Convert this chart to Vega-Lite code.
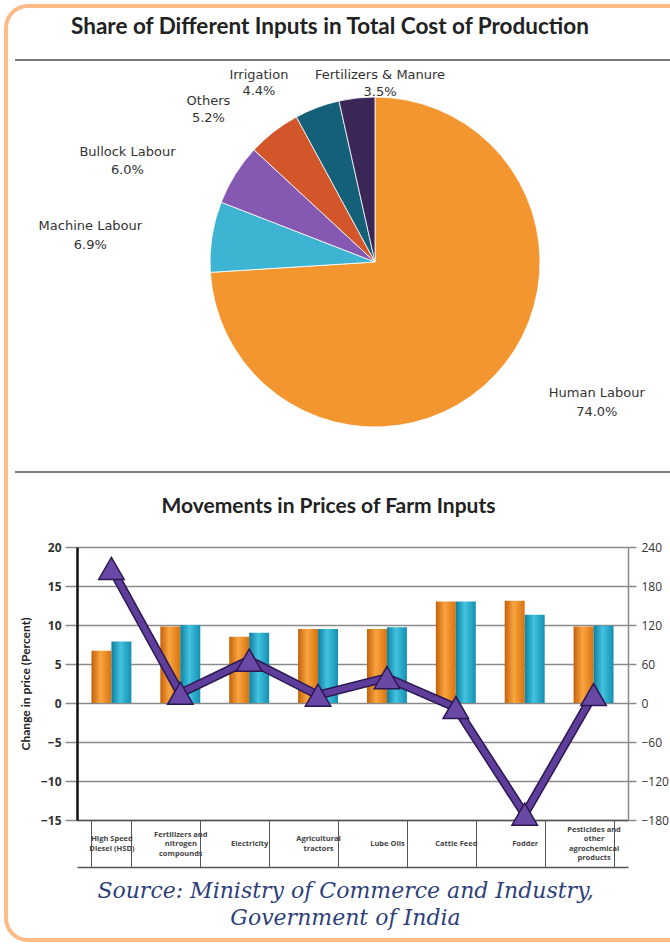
{
  "$schema": "https://vega.github.io/schema/vega-lite/v6.json",
  "background": "white",
  "padding": 4,
  "bounds": "flush",
  "spacing": 75,
  "config": {"view": {"stroke": null}, "font": "Lato"},
  "datasets": {
    "shares": [
      {"input": "Human Labour", "share": 74.0, "order": 1},
      {"input": "Machine Labour", "share": 6.9, "order": 2},
      {"input": "Bullock Labour", "share": 6.0, "order": 3},
      {"input": "Others", "share": 5.2, "order": 4},
      {"input": "Irrigation", "share": 4.4, "order": 5},
      {"input": "Fertilizers & Manure", "share": 3.5, "order": 6}
    ],
    "prices": [
      {"category": "High Speed Diesel (HSD)", "period": "Period 1", "change": 6.7},
      {"category": "High Speed Diesel (HSD)", "period": "Period 2", "change": 7.9},
      {"category": "Fertilizers and nitrogen compounds", "period": "Period 1", "change": 9.8},
      {"category": "Fertilizers and nitrogen compounds", "period": "Period 2", "change": 10.0},
      {"category": "Electricity", "period": "Period 1", "change": 8.5},
      {"category": "Electricity", "period": "Period 2", "change": 9.0},
      {"category": "Agricultural tractors", "period": "Period 1", "change": 9.5},
      {"category": "Agricultural tractors", "period": "Period 2", "change": 9.5},
      {"category": "Lube Oils", "period": "Period 1", "change": 9.5},
      {"category": "Lube Oils", "period": "Period 2", "change": 9.7},
      {"category": "Cattle Feed", "period": "Period 1", "change": 13.0},
      {"category": "Cattle Feed", "period": "Period 2", "change": 13.0},
      {"category": "Fodder", "period": "Period 1", "change": 13.1},
      {"category": "Fodder", "period": "Period 2", "change": 11.3},
      {"category": "Pesticides and other agrochemical products", "period": "Period 1", "change": 9.8},
      {"category": "Pesticides and other agrochemical products", "period": "Period 2", "change": 9.9}
    ],
    "wpi": [
      {"category": "High Speed Diesel (HSD)", "wpi": 207},
      {"category": "Fertilizers and nitrogen compounds", "wpi": 15},
      {"category": "Electricity", "wpi": 66},
      {"category": "Agricultural tractors", "wpi": 12},
      {"category": "Lube Oils", "wpi": 39},
      {"category": "Cattle Feed", "wpi": -7},
      {"category": "Fodder", "wpi": -171},
      {"category": "Pesticides and other agrochemical products", "wpi": 13}
    ]
  },
  "vconcat": [
    {
      "width": 596,
      "height": 420,
      "layer": [
        {
          "data": {"values": [{}]},
          "mark": {"type": "rect", "filled": false, "color": "#FDBB87", "strokeWidth": 4, "cornerRadius": 22},
          "encoding": {
            "x": {"datum": -0.1191, "type": "quantitative", "scale": {"domain": [0, 1], "nice": false, "zero": false}, "axis": null},
            "x2": {"datum": 1.0453},
            "y": {"datum": 1.1095, "type": "quantitative", "scale": {"domain": [0, 1], "nice": false, "zero": false}, "axis": null},
            "y2": {"datum": -1.1143}
          }
        },
        {
          "data": {"values": [{"title": "Share of Different Inputs in Total Cost of Production"}]},
          "mark": {"type": "text", "font": "Lato", "fontSize": 22.5, "fontWeight": "bold", "color": "#222222", "align": "center", "baseline": "middle"},
          "encoding": {
            "x": {"datum": 0.4245, "type": "quantitative", "scale": {"domain": [0, 1], "nice": false, "zero": false}, "axis": null},
            "y": {"datum": 1.0595, "type": "quantitative", "scale": {"domain": [0, 1], "nice": false, "zero": false}, "axis": null},
            "text": {"field": "title"}
          }
        },
        {
          "data": {"values": [{}]},
          "mark": {"type": "rule", "color": "#7a7a7a", "strokeWidth": 2},
          "encoding": {
            "x": {"datum": -0.104, "type": "quantitative", "scale": {"domain": [0, 1], "nice": false, "zero": false}, "axis": null},
            "x2": {"datum": 1.0453},
            "y": {"datum": 0.981, "type": "quantitative", "scale": {"domain": [0, 1], "nice": false, "zero": false}, "axis": null}
          }
        },
        {
          "data": {"values": [{}]},
          "mark": {"type": "rule", "color": "#7a7a7a", "strokeWidth": 2},
          "encoding": {
            "x": {"datum": -0.104, "type": "quantitative", "scale": {"domain": [0, 1], "nice": false, "zero": false}, "axis": null},
            "x2": {"datum": 1.0453},
            "y": {"datum": 0, "type": "quantitative", "scale": {"domain": [0, 1], "nice": false, "zero": false}, "axis": null}
          }
        },
        {
          "data": {"name": "shares"},
          "transform": [
            {"window": [{"op": "sum", "field": "share", "as": "cum"}], "sort": [{"field": "order", "order": "ascending"}], "frame": [null, 0]},
            {"calculate": "datum.cum - datum.share / 2", "as": "mid"},
            {"calculate": "datum.input + '\\n' + format(datum.share, '.1f') + '%'", "as": "label"}
          ],
          "layer": [
            {
              "mark": {"type": "arc", "outerRadius": 165, "stroke": "#ffffff", "strokeWidth": 0.8},
              "encoding": {
                "theta": {"field": "share", "type": "quantitative", "stack": true, "scale": {"domain": [0, 100]}},
                "order": {"field": "order", "type": "quantitative"},
                "color": {"field": "input", "type": "nominal", "legend": null,
                  "scale": {"domain": ["Human Labour", "Machine Labour", "Bullock Labour", "Others", "Irrigation", "Fertilizers & Manure"],
                            "range": ["#F3962F", "#3DB4D2", "#8558B2", "#D2562A", "#146079", "#3B2658"]}}
              }
            },
            {
              "transform": [{"filter": "datum.input == 'Human Labour'"}],
              "mark": {"type": "text", "radius": 200, "dx": 76, "dy": -6, "font": "DejaVu Sans", "fontSize": 13, "color": "#333333", "lineBreak": "\n", "lineHeight": 19, "align": "center", "baseline": "middle"},
              "encoding": {"theta": {"field": "mid", "type": "quantitative", "stack": null, "scale": {"domain": [0, 100]}}, "text": {"field": "label"}}
            },
            {
              "transform": [{"filter": "datum.input == 'Machine Labour'"}],
              "mark": {"type": "text", "radius": 200, "dx": -87, "dy": -5, "font": "DejaVu Sans", "fontSize": 13, "color": "#333333", "lineBreak": "\n", "lineHeight": 19, "align": "center", "baseline": "middle"},
              "encoding": {"theta": {"field": "mid", "type": "quantitative", "stack": null, "scale": {"domain": [0, 100]}}, "text": {"field": "label"}}
            },
            {
              "transform": [{"filter": "datum.input == 'Bullock Labour'"}],
              "mark": {"type": "text", "radius": 200, "dx": -78, "dy": -4, "font": "DejaVu Sans", "fontSize": 13, "color": "#333333", "lineBreak": "\n", "lineHeight": 18, "align": "center", "baseline": "middle"},
              "encoding": {"theta": {"field": "mid", "type": "quantitative", "stack": null, "scale": {"domain": [0, 100]}}, "text": {"field": "label"}}
            },
            {
              "transform": [{"filter": "datum.input == 'Others'"}],
              "mark": {"type": "text", "radius": 200, "dx": -44, "dy": -3, "font": "DejaVu Sans", "fontSize": 13, "color": "#333333", "lineBreak": "\n", "lineHeight": 17, "align": "center", "baseline": "middle"},
              "encoding": {"theta": {"field": "mid", "type": "quantitative", "stack": null, "scale": {"domain": [0, 100]}}, "text": {"field": "label"}}
            },
            {
              "transform": [{"filter": "datum.input == 'Irrigation'"}],
              "mark": {"type": "text", "radius": 200, "dx": -46, "dy": 0, "font": "DejaVu Sans", "fontSize": 13, "color": "#333333", "lineBreak": "\n", "lineHeight": 16, "align": "center", "baseline": "middle"},
              "encoding": {"theta": {"field": "mid", "type": "quantitative", "stack": null, "scale": {"domain": [0, 100]}}, "text": {"field": "label"}}
            },
            {
              "transform": [{"filter": "datum.input == 'Fertilizers & Manure'"}],
              "mark": {"type": "text", "radius": 200, "dx": 27, "dy": 12, "font": "DejaVu Sans", "fontSize": 13, "color": "#333333", "lineBreak": "\n", "lineHeight": 17, "align": "center", "baseline": "middle"},
              "encoding": {"theta": {"field": "mid", "type": "quantitative", "stack": null, "scale": {"domain": [0, 100]}}, "text": {"field": "label"}}
            }
          ]
        }
      ]
    },
    {
      "width": 551,
      "height": 273,
      "title": {"text": "Movements in Prices of Farm Inputs", "frame": "group", "font": "Lato", "fontSize": 21, "fontWeight": "bold", "color": "#222222", "dx": -24, "offset": 24},
      "layer": [
        {
          "data": {"name": "prices"},
          "encoding": {
            "xOffset": {"field": "period", "type": "nominal", "scale": {"domain": ["Period 1", "Period 2"]}},
            "y": {"field": "change", "type": "quantitative", "scale": {"domain": [-15, 20], "nice": false, "zero": false},
              "axis": {"orient": "left", "values": [-15, -10, -5, 0, 5, 10, 15, 20], "labelOverlap": false, "grid": true, "gridColor": "#8a8a8a", "gridWidth": 1.5, "tickColor": "#8a8a8a", "tickSize": 12, "tickWidth": 1.5, "domainColor": "#111111", "domainWidth": 2.5,
                "labelFont": "Open Sans", "labelFontSize": 12, "labelFontWeight": "bold", "labelColor": "#333333", "labelPadding": 4,
                "title": "Change in price (Percent)", "titleFont": "Lato", "titleFontSize": 12, "titleFontWeight": "bold", "titleColor": "#222222", "titlePadding": 8}}
          },
          "layer": [
            {
              "transform": [{"filter": "datum.period == 'Period 1'"}],
              "mark": {"type": "bar", "color": {"gradient": "linear", "x1": 0, "x2": 1, "y1": 0, "y2": 0, "stops": [{"offset": 0, "color": "#C4600A"}, {"offset": 0.45, "color": "#F9A540"}, {"offset": 1, "color": "#D8720F"}]}},
              "encoding": {
                "x": {"field": "category", "type": "nominal",
                  "scale": {"domain": ["High Speed Diesel (HSD)", "Fertilizers and nitrogen compounds", "Electricity", "Agricultural tractors", "Lube Oils", "Cattle Feed", "Fodder", "Pesticides and other agrochemical products"], "paddingInner": 0.42, "paddingOuter": 0.21},
                  "axis": {"orient": "bottom", "title": null, "tickBand": "extent", "tickSize": 47, "tickColor": "#555555", "tickWidth": 1, "domainColor": "#555555", "domainWidth": 1.5,
                    "labelAngle": 0, "labelFont": "Open Sans", "labelFontSize": 7.5, "labelFontWeight": "bold", "labelColor": "#444444", "labelBaseline": "middle", "labelLineHeight": 9.5, "labelOverlap": false,
                    "labelPadding": {"condition": [
                      {"test": "datum.value == 'High Speed Diesel (HSD)' || datum.value == 'Agricultural tractors'", "value": -28.25},
                      {"test": "datum.value == 'Fertilizers and nitrogen compounds'", "value": -33},
                      {"test": "datum.value == 'Pesticides and other agrochemical products'", "value": -37.75}
                    ], "value": -23.5},
                    "labelExpr": "datum.value == 'High Speed Diesel (HSD)' ? ['High Speed', 'Diesel (HSD)'] : datum.value == 'Fertilizers and nitrogen compounds' ? ['Fertilizers and', 'nitrogen', 'compounds'] : datum.value == 'Agricultural tractors' ? ['Agricultural', 'tractors'] : datum.value == 'Pesticides and other agrochemical products' ? ['Pesticides and', 'other', 'agrochemical', 'products'] : datum.label"}}
              }
            },
            {
              "transform": [{"filter": "datum.period == 'Period 2'"}],
              "mark": {"type": "bar", "color": {"gradient": "linear", "x1": 0, "x2": 1, "y1": 0, "y2": 0, "stops": [{"offset": 0, "color": "#0E7F9E"}, {"offset": 0.45, "color": "#42C3E0"}, {"offset": 1, "color": "#158FB0"}]}},
              "encoding": {
                "x": {"field": "category", "type": "nominal",
                  "scale": {"domain": ["High Speed Diesel (HSD)", "Fertilizers and nitrogen compounds", "Electricity", "Agricultural tractors", "Lube Oils", "Cattle Feed", "Fodder", "Pesticides and other agrochemical products"], "paddingInner": 0.42, "paddingOuter": 0.21},
                  "axis": {"orient": "bottom", "offset": 47, "ticks": false, "labels": false, "domainColor": "#555555", "domainWidth": 1.5,
                    "title": ["Source: Ministry of Commerce and Industry,", "Government of India"], "titleFont": "DejaVu Serif", "titleFontStyle": "italic", "titleFontWeight": "normal", "titleFontSize": 22, "titleColor": "#2E3F7A", "titlePadding": 13, "titleLineHeight": 27, "titleX": 268}}
              }
            }
          ],
          "resolve": {"axis": {"x": "independent"}}
        },
        {
          "data": {"name": "wpi"},
          "encoding": {
            "x": {"field": "category", "type": "nominal", "axis": null,
              "scale": {"domain": ["High Speed Diesel (HSD)", "Fertilizers and nitrogen compounds", "Electricity", "Agricultural tractors", "Lube Oils", "Cattle Feed", "Fodder", "Pesticides and other agrochemical products"], "paddingInner": 0.42, "paddingOuter": 0.21}},
            "y": {"field": "wpi", "type": "quantitative", "scale": {"domain": [-180, 240], "nice": false, "zero": false},
              "axis": {"orient": "right", "values": [-180, -120, -60, 0, 60, 120, 180, 240], "labelOverlap": false, "grid": false, "tickColor": "#8a8a8a", "tickSize": 8, "tickWidth": 1.5, "domainColor": "#8a8a8a", "domainWidth": 1.5,
                "labelFont": "Open Sans", "labelFontSize": 12, "labelColor": "#333333", "labelPadding": 5,
                "title": "WPI", "titleFont": "Open Sans", "titleFontSize": 10, "titleFontWeight": "bold", "titleColor": "#333333", "titlePadding": 4}}
          },
          "layer": [
            {"mark": {"type": "line", "color": "#2B1850", "strokeWidth": 9}},
            {"mark": {"type": "line", "color": "#5E3E9A", "strokeWidth": 6}},
            {"mark": {"type": "point", "shape": "triangle-up", "filled": true, "size": 650, "color": "#6A49A6", "stroke": "#2B1850", "strokeWidth": 1.5, "opacity": 1}}
          ]
        }
      ],
      "resolve": {"scale": {"y": "independent"}, "axis": {"x": "independent"}}
    }
  ]
}
